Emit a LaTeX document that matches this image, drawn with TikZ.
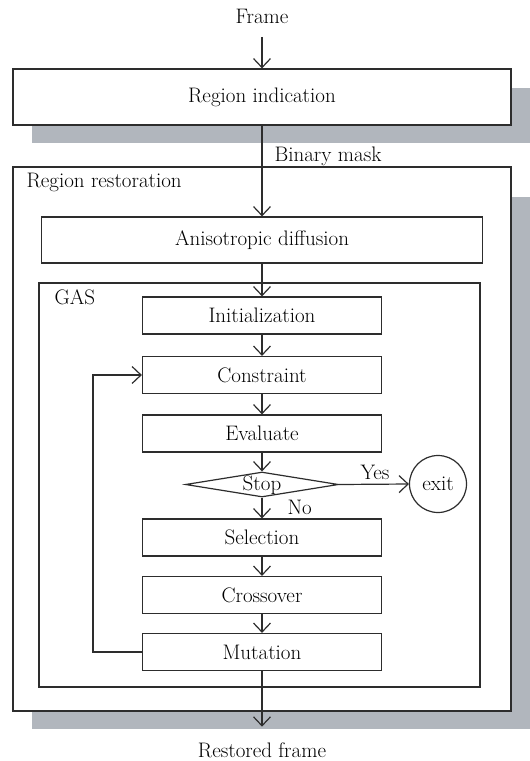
\documentclass[tikz,border=0pt]{standalone}
\usetikzlibrary{arrows.meta,shapes.geometric}
\definecolor{shadowgray}{RGB}{177,182,189}
\definecolor{linegray}{RGB}{45,45,45}
\begin{document}
\begin{tikzpicture}[x=1pt, y=-1pt, >={Straight Barb[length=9pt,width=17pt]},
    line width=1.2pt, draw=linegray, inner sep=0pt, font=\fontsize{21}{25}\selectfont,
    bigbox/.style={draw, fill=white},
    box/.style={draw, fill=white, minimum width=239pt, minimum height=37pt},
    decision/.style={draw, fill=white, diamond, minimum width=153pt, minimum height=25pt},
    term/.style={draw, fill=white, circle, minimum size=57pt}]
    \useasboundingbox (0,0) rectangle (530,761);

    % shadows
    \fill[shadowgray] (32,88) rectangle (530,143);
    \fill[shadowgray] (32,197) rectangle (530,729);

    % Region indication
    \node[anchor=base] (frame) at (262,23) {Frame};
    \node[bigbox, minimum width=498pt, minimum height=56pt] (ind) at (262,97) {Region indication};

    % Region restoration
    \node[bigbox, minimum width=498pt, minimum height=544pt] (rest) at (262,439) {};
    \node[anchor=base west] (restlbl) at (26,187) {Region restoration};
    \node[bigbox, minimum width=441pt, minimum height=46pt] (aniso) at (262,240) {Anisotropic diffusion};

    % GAS
    \node[bigbox, minimum width=441pt, minimum height=404pt] (gas) at (259.5,485) {};
    \node[anchor=base west] (gaslbl) at (54,304) {GAS};

    \node[box] (init) at (262,315.5) {Initialization};
    \node[box] (con) at (262,375) {Constraint};
    \node[box] (eval) at (262,433.5) {Evaluate};
    \node[decision] (stop) at (262,484.5) {};
    \node[anchor=base] (stoplbl) at (262,490) {Stop};
    \node[term] (exit) at (438,484) {exit};
    \node[box] (sel) at (262,537.5) {Selection};
    \node[box] (cross) at (262,595) {Crossover};
    \node[box] (mut) at (262,652) {Mutation};
    \coordinate (loop) at (93,652);

    \node[anchor=base] (out) at (262,757) {Restored frame};

    % connectors
    \draw[->, shorten <=13pt] (frame.south) -- (ind.north);
    \draw[->] (ind.south) -- (aniso.north);
    \node[anchor=base west] (mask) at (274,161) {Binary mask};
    \draw[->] (aniso.south) -- (init.north);
    \draw[->] (init) -- (con);
    \draw[->] (con) -- (eval);
    \draw[->] (eval) -- (stop.north);
    \draw[->] (stop.east) -- (exit.west);
    \node[anchor=base] (yes) at (375,479) {Yes};
    \draw[->] (stop.south) -- (sel.north);
    \node[anchor=base west] (no) at (287,514) {No};
    \draw[->] (sel) -- (cross);
    \draw[->] (cross) -- (mut);
    \draw[->] (mut.west) -- (loop) |- (con.west);
    \draw[->, shorten >=15pt] (mut.south) -- (out.north);
\end{tikzpicture}
\end{document}
